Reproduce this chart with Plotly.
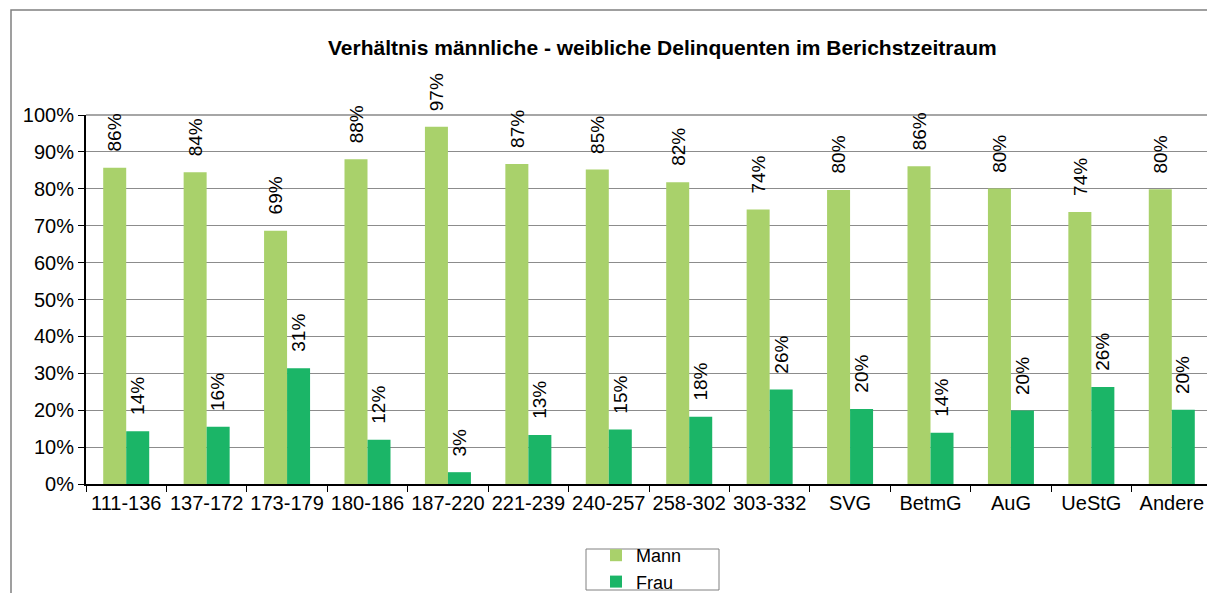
import plotly.graph_objects as go

categories = ["111-136", "137-172", "173-179", "180-186", "187-220", "221-239", "240-257",
              "258-302", "303-332", "SVG", "BetmG", "AuG", "UeStG", "Andere"]
mann = [85.7, 84.5, 68.6, 88.0, 96.8, 86.7, 85.2, 81.8, 74.4, 79.7, 86.1, 80.1, 73.7, 79.9]
frau = [14.3, 15.5, 31.4, 12.0, 3.2, 13.3, 14.8, 18.2, 25.6, 20.3, 13.9, 19.9, 26.3, 20.1]
y_ticks = [0, 10, 20, 30, 40, 50, 60, 70, 80, 90, 100]

W, H = 1215, 593
OFF = 8  # page body margin offset in the browser
# target screen positions of plot area
SL, SR, ST, SB = 86, 1212, 115, 484
L, R, T, B = SL - OFF, SR - OFF, ST - OFF, SB - OFF
pw, ph = R - L, B - T


def px(x):
    return (x - OFF - L) / pw


def py(y):
    return (B - (y - OFF)) / ph


C_MANN = "#A9D16B"
C_FRAU = "#1BB567"
FONT = "Liberation Sans, Arial, sans-serif"

fig = go.Figure()
fig.add_trace(go.Bar(x=categories, y=mann, name="Mann", marker=dict(color=C_MANN, line=dict(width=0))))
fig.add_trace(go.Bar(x=categories, y=frau, name="Frau", marker=dict(color=C_FRAU, line=dict(width=0))))

annotations = []
cat_w = pw / len(categories)
bar_w = cat_w * (1 - 0.428) / 2
for series, off in ((mann, -bar_w / 2), (frau, bar_w / 2)):
    for c, v in zip(categories, series):
        annotations.append(dict(
            x=c, y=v, xref="x", yref="y", text=f"{round(v):.0f}%", showarrow=False,
            textangle=-90, xanchor="center", yanchor="bottom", xshift=off, yshift=14,
            font=dict(family=FONT, size=19, color="#000")))

annotations.append(dict(
    x=px(662), y=py(47), xref="paper", yref="paper",
    text="<b>Verhältnis männliche - weibliche Delinquenten im Berichstzeitraum</b>",
    showarrow=False, xanchor="center", yanchor="middle",
    font=dict(family=FONT, size=21, color="#000")))

shapes = [
    # outer chart border
    dict(type="rect", xref="paper", yref="paper",
         x0=px(11), x1=px(1240), y0=py(620), y1=py(10),
         line=dict(color="#808080", width=1.5), fillcolor="rgba(0,0,0,0)", layer="below"),
    # plot area border top/right
    dict(type="line", xref="paper", yref="paper", x0=0, x1=1, y0=1, y1=1,
         line=dict(color="#A6A6A6", width=2)),
    dict(type="line", xref="paper", yref="paper", x0=1, x1=1, y0=0, y1=1,
         line=dict(color="#A6A6A6", width=2)),
    # legend box
    dict(type="rect", xref="paper", yref="paper",
         x0=px(586), x1=px(719), y0=py(590), y1=py(549),
         line=dict(color="#808080", width=1), fillcolor="rgba(0,0,0,0)"),
]

fig.update_layout(
    width=W, height=H,
    margin=dict(l=L, r=W - R, t=T, b=H - B, pad=0, autoexpand=False),
    paper_bgcolor="white", plot_bgcolor="white",
    barmode="group", bargap=0.428, bargroupgap=0,
    showlegend=True,
    legend=dict(
        x=px(596), y=py(537), xanchor="left", yanchor="top",
        orientation="v", borderwidth=0, bgcolor="rgba(0,0,0,0)",
        font=dict(family=FONT, size=18, color="#000"),
        itemwidth=30, tracegroupgap=0),
    annotations=annotations,
    shapes=shapes,
    font=dict(family=FONT, color="#000"),
)
fig.update_xaxes(
    type="category", showline=True, linecolor="#000", linewidth=2,
    ticks="outside", tickson="boundaries", ticklen=6, tickcolor="#000", tickangle=0,
    tickfont=dict(family=FONT, size=20, color="#000"), showgrid=False)
fig.update_yaxes(
    range=[0, 100], tickvals=y_ticks, ticktext=[f"{v}%" for v in y_ticks],
    showline=True, linecolor="#000", linewidth=2,
    ticks="outside", ticklen=6, tickcolor="#000",
    showgrid=True, gridcolor="#8C8C8C", gridwidth=1, zeroline=False,
    tickfont=dict(family=FONT, size=20, color="#000"))

fig.write_html("out.html")
